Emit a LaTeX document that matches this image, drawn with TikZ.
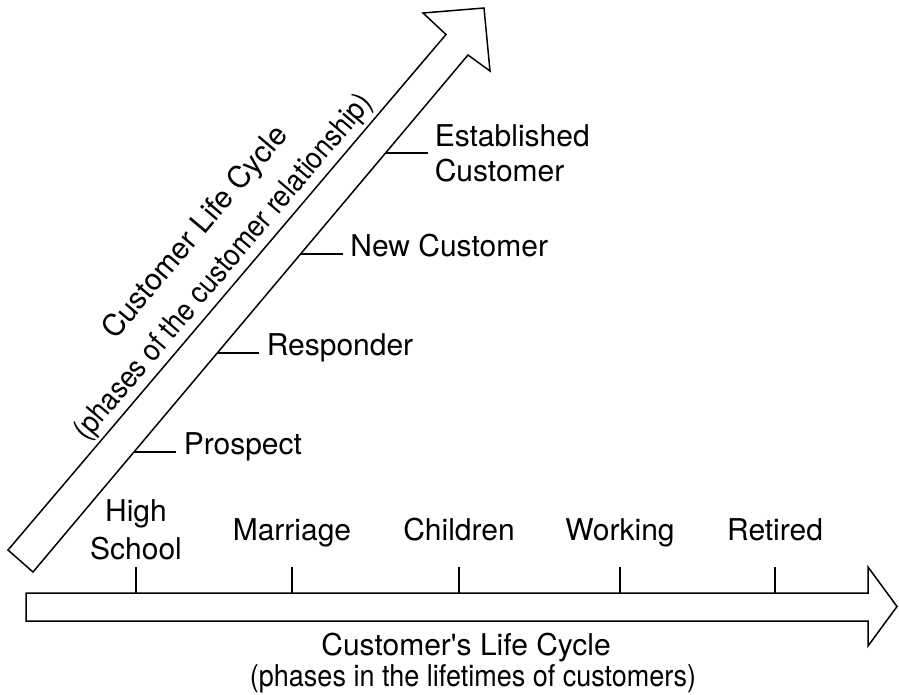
\documentclass[tikz,border=0pt]{standalone}
\usepackage{fontspec}
\setmainfont{TeX Gyre Heros}
\newfontfamily\narrowfont{TeX Gyre Heros}[FakeStretch=0.9]
\begin{document}
\begin{tikzpicture}[x=1pt,y=-1pt,line width=1.5pt,
  lbl/.style={inner sep=0pt,font=\fontsize{30}{35}\selectfont},
  sublbl/.style={lbl,font=\fontsize{30}{35}\narrowfont}]
  \useasboundingbox (0,0) rectangle (899,694);
  % relationship arrow
  \draw[line join=miter] (8,550) -- (446,34.5) -- (423,13) -- (484,8) -- (490,71)
    -- (468,55) -- (33,572) -- cycle;
  % lifetime arrow
  \draw (26,593) -- (868,593) -- (868,567) -- (897,606.5) -- (868,646)
    -- (868,621) -- (26,621) -- cycle;
  \node[lbl,rotate=49.7,anchor=base] (reltitle) at (202,238.2) {Customer Life Cycle};
  \node[sublbl,rotate=49.7,anchor=base] (relsub) at (229.8,272.9)
    {(phases of the customer relationship)};
  % phases of the relationship
  \foreach \ex/\ey/\name/\txt in {134/452/prospect/Prospect,217/353/responder/Responder,
      300.6/254/newcust/New Customer}{
    \coordinate (\name tick) at (\ex,\ey);
    \node[lbl,inner xsep=7pt,anchor=mid west] (\name) at (\ex+42,\ey) {\txt};
    \draw (\name tick) -- (\name.mid west);
  }
  \coordinate (estab tick) at (385.5,153);
  \node[lbl,inner xsep=6pt,align=left,anchor=west] (estab) at (428,153)
    {Established\\Customer};
  \draw (estab tick) -- (estab.west);
  % phases of the lifetime
  \coordinate (school tick) at (136,593);
  \coordinate (school top) at (136,567);
  \draw (school tick) -- (school top);
  \node[lbl,align=center,anchor=south,font=\fontsize{30}{38}\selectfont] (school)
    at (136,561) {High\\School};
  \foreach \x/\name/\txt in {292/marriage/Marriage,459/children/Children,
      620/working/Working,775/retired/Retired}{
    \coordinate (\name tick) at (\x,593);
    \coordinate (\name top) at (\x,567);
    \draw (\name tick) -- (\name top);
    \node[lbl,anchor=base] (\name) at (\x,540) {\txt};
  }
  \node[lbl,anchor=base] (lifetitle) at (466,655) {Customer\textquotesingle s Life Cycle};
  \node[sublbl,anchor=base] (lifesub) at (473,686) {(phases in the lifetimes of customers)};
\end{tikzpicture}
\end{document}
